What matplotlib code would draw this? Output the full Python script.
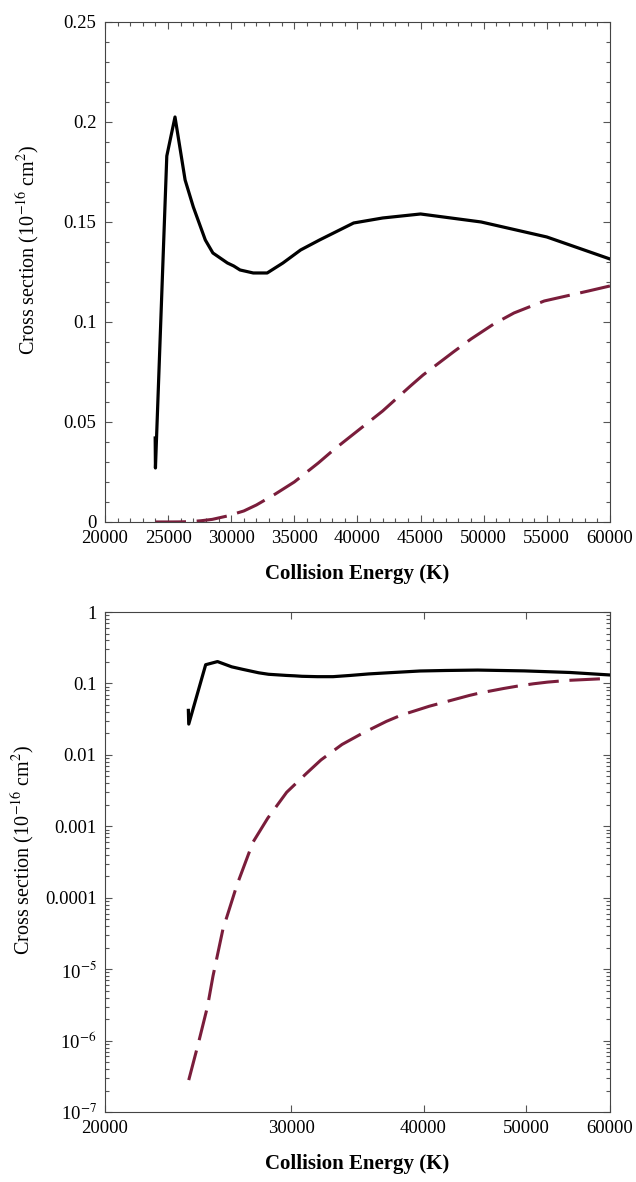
import numpy as np
import matplotlib
matplotlib.use('Agg')
import matplotlib.pyplot as plt
from matplotlib.ticker import (MultipleLocator, FixedLocator, FixedFormatter,
                               NullFormatter, LogLocator, FuncFormatter)

plt.rcParams['font.family'] = ['Liberation Serif', 'DejaVu Serif']
plt.rcParams['mathtext.fontset'] = 'stix'

# solid curve (total cross section)
solid_E = [23980, 24000, 24900, 25550, 26350, 27000, 27950, 28550, 29700, 30200,
           30700, 31750, 32850, 34100, 35500, 37000, 39700, 42000, 45000, 49800,
           55000, 60000]
solid_sigma = [0.042, 0.027, 0.183, 0.2025, 0.171, 0.1575, 0.141, 0.1345, 0.1295, 0.128,
               0.126, 0.1245, 0.1245, 0.1295, 0.136, 0.141, 0.1495, 0.152, 0.154, 0.150,
               0.1425, 0.1315]

# dashed curve
dash_E = [24000, 24500, 25000, 25300, 25850, 26650, 27600, 28500, 29700, 31000,
          32000, 33500, 35000, 36900, 38100, 40500, 42000, 44200, 45200, 47600,
          49000, 50800, 52400, 54800, 58300, 60000]
dash_sigma = [2.8e-7, 9e-7, 3e-6, 8e-6, 3.6e-5, 1.5e-4, 6e-4, 1.3e-3, 3.0e-3, 5.5e-3,
              8.5e-3, 0.014, 0.020, 0.0295, 0.036, 0.048, 0.0555, 0.068, 0.0735, 0.085,
              0.0915, 0.099, 0.1045, 0.1105, 0.1155, 0.118]

log_yticks = [1e-7, 1e-6, 1e-5, 1e-4, 1e-3, 1e-2, 1e-1, 1]
log_ylabels = ['10$^{-7}$', '10$^{-6}$', '10$^{-5}$', '0.0001', '0.001', '0.01', '0.1', '1']
log_xticks = [20000, 30000, 40000, 50000, 60000]

dash_color = '#7a1d3b'
ylab = 'Cross section (10$^{-16}$ cm$^{2}$)'
xlab = 'Collision Energy (K)'

fig = plt.figure(figsize=(6.36, 11.82), dpi=100)
ax1 = fig.add_axes([0.165, 0.5584, 0.794, 0.423])
ax2 = fig.add_axes([0.165, 0.0592, 0.794, 0.423])

for ax in (ax1, ax2):
    ax.plot(solid_E, solid_sigma, color='black', lw=2.3, solid_joinstyle='round')
    ax.plot(dash_E, dash_sigma, color=dash_color, lw=2.2, dashes=(10, 3.5))
    ax.set_xlim(20000, 60000)
    ax.tick_params(which='both', direction='in', top=True, right=True, labelsize=13.5,
                   color='#555555', width=0.8)
    ax.tick_params(which='major', length=5, pad=6)
    ax.tick_params(which='minor', length=3)
    for s in ax.spines.values():
        s.set_linewidth(0.8)
        s.set_color('#444444')
    ax.set_ylabel(ylab, fontsize=14.5)
    ax.set_xlabel(xlab, fontsize=15, fontweight='bold', labelpad=12)

ax1.set_ylim(0, 0.25)
ax1.xaxis.set_major_locator(MultipleLocator(5000))
ax1.xaxis.set_minor_locator(MultipleLocator(1000))
ax1.yaxis.set_major_locator(MultipleLocator(0.05))
ax1.yaxis.set_minor_locator(MultipleLocator(0.01))
ax1.yaxis.set_major_formatter(FuncFormatter(lambda v, p: f'{v:g}'))
ax1.yaxis.set_label_coords(-0.125, 0.545)

ax2.set_xscale('log')
ax2.set_yscale('log')
ax2.set_xlim(20000, 60000)
ax2.set_ylim(1e-7, 1)
ax2.xaxis.set_major_locator(FixedLocator(log_xticks))
ax2.xaxis.set_major_formatter(FixedFormatter([str(v) for v in log_xticks]))
ax2.xaxis.set_minor_locator(FixedLocator([]))
ax2.xaxis.set_minor_formatter(NullFormatter())
ax2.yaxis.set_major_locator(FixedLocator(log_yticks))
ax2.yaxis.set_major_formatter(FixedFormatter(log_ylabels))
ax2.yaxis.set_minor_locator(LogLocator(base=10, subs=np.arange(2, 10)))
ax2.yaxis.set_minor_formatter(NullFormatter())
ax2.yaxis.set_label_coords(-0.135, 0.525)

fig.savefig('out.png', dpi=100)
